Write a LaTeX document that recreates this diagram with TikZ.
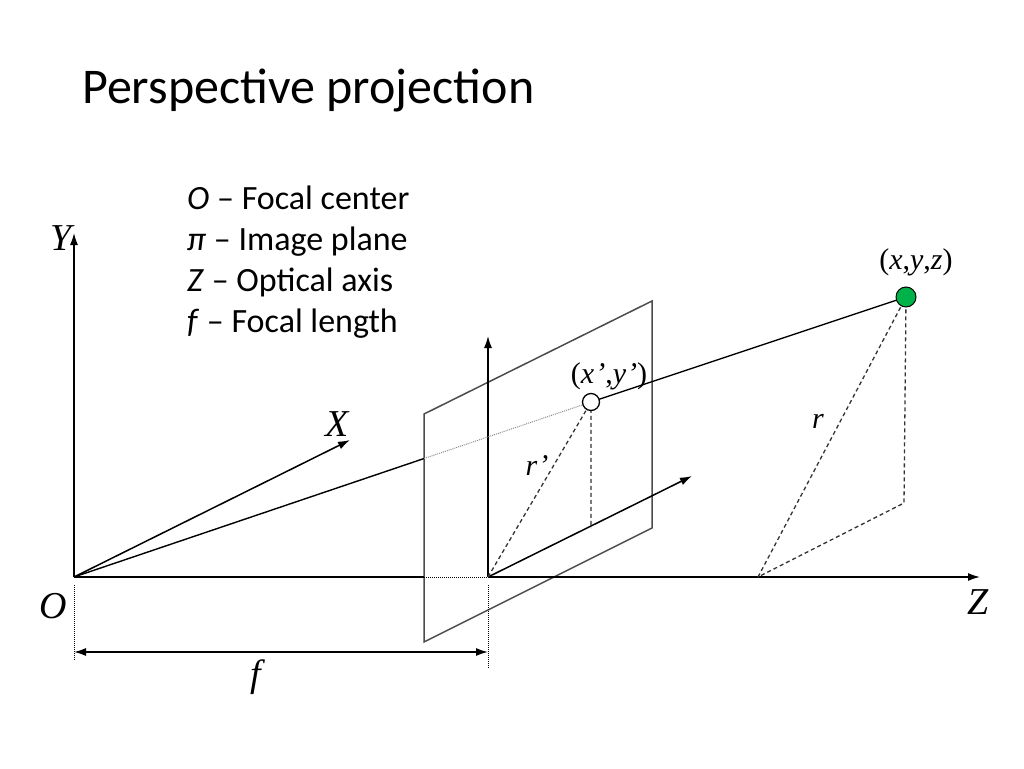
\documentclass[tikz,border=0pt]{standalone}
\usepackage{fontspec}
\setmainfont{Liberation Serif}
\newfontfamily\calibri{Carlito}
\usetikzlibrary{arrows.meta,calc}
\definecolor{ptgreen}{RGB}{0,178,72}
\begin{document}
\begin{tikzpicture}[x=1pt,y=-1pt,
  axis/.style={line width=1.5pt,-{Latex[length=12pt,width=8pt]}},
  plane/.style={line width=1.5pt,draw=black!70},
  proj/.style={line width=1.3pt,draw=black!80,dash pattern=on 4pt off 3pt},
  hidden/.style={line width=1pt,densely dotted},
  lbl/.style={font=\itshape\fontsize{38}{38}\selectfont},
  small/.style={font=\fontsize{30}{30}\selectfont}]
\useasboundingbox (0,0) rectangle (1024,768);
\node[anchor=base west,inner sep=0pt,font=\calibri\fontsize{50}{50}\selectfont] at (82,103) (title) {Perspective projection};
\node[anchor=north west,align=left,inner sep=0pt,font=\calibri\fontsize{34}{41}\selectfont] at (187,186) (legend)
  {\textit{O} – Focal center\\ \textit{π} – Image plane\\ \textit{Z} – Optical axis\\ \textit{f} – Focal length};
\coordinate (O) at (74,577);
\coordinate (ytip) at (74,233);
\coordinate (ztip) at (980,577);
\coordinate (xtip) at (350,440);
\coordinate (pa) at (424,414);
\coordinate (pb) at (652,301);
\coordinate (pc) at (652,528);
\coordinate (pd) at (424,642);
\coordinate (zin) at (424,577);
\coordinate (c) at (488,577);
\coordinate (cy) at (488,336);
\coordinate (cx) at (692,476);
\coordinate (q) at (591,402);
\coordinate (qf) at (591,528);
\coordinate (P) at (906,297);
\coordinate (Pf) at (904,503);
\coordinate (Pb) at (758,577);
\coordinate (e) at ($(O)!{(424-74)/(591-74)}!(q)$);
\draw[plane] (pa)--(pb)--(pc)--(pd)--cycle;
\draw[axis] (O)--(ytip);
\draw[axis] (O)--(xtip);
\draw[line width=1.5pt] (O)--(zin);
\draw[hidden] (zin)--(c);
\draw[axis] (c)--(ztip);
\draw[axis] (c)--(cy);
\draw[axis] (c)--(cx);
\draw[line width=1.4pt] (O)--(e);
\draw[hidden,draw=black!45] (e)--(q);
\draw[line width=1.4pt] (q)--(P);
\draw[proj] (c)--(q)--(qf);
\draw[proj] (Pb)--(P)--(Pf)--(Pb);
\node[circle,draw,line width=1.3pt,fill=white,minimum size=17pt,inner sep=0pt] at (q) (qdot){};
\node[circle,draw,line width=1pt,fill=ptgreen,minimum size=20pt,inner sep=0pt] at (P) (Pdot){};
\draw[hidden,line width=0.8pt] (74,585)--(74,660);
\draw[hidden,line width=0.8pt] (488,585)--(488,668);
\draw[line width=1.5pt,{Latex[length=12pt,width=8pt]}-{Latex[length=12pt,width=8pt]}] (74,652)--(488,652);
\node[lbl] at (61,238) (ylab){Y};
\node[lbl] at (337,424) (xlab){X};
\node[lbl] at (978,602) (zlab){Z};
\node[lbl] at (53,606) (olab){O};
\node[lbl] at (256,677) (flab){f};
\node[small] at (609,376) (qlab){(\textit{x\kern1pt'},\textit{y\kern1pt'})};
\node[small] at (916,262) (plab){(\textit{x},\textit{y},\textit{z})};
\node[small] at (537,466) (rqlab){\textit{r\kern1pt'}};
\node[small] at (818,421) (rlab){\textit{r}};
\end{tikzpicture}
\end{document}
